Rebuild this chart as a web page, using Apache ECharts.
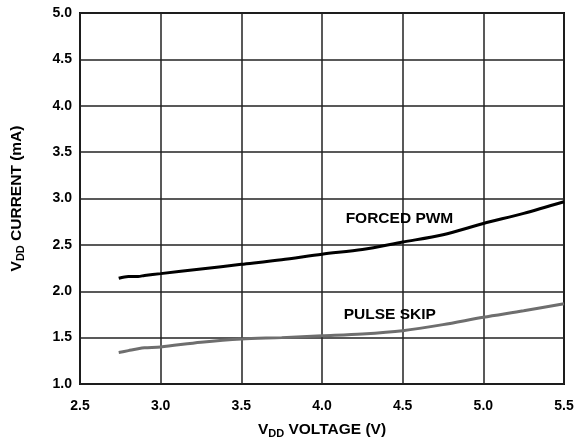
<!DOCTYPE html>
<html><head><meta charset="utf-8">
<script src="https://cdn.jsdelivr.net/npm/echarts@6/dist/echarts.min.js"></script>
<style>html,body{margin:0;padding:0;background:#fff}#c{width:579px;height:444px}</style>
</head><body><div id="c"></div>
<script>
const voltage = [2.74, 2.80, 2.86, 2.9, 3.0, 3.25, 3.5, 3.75, 4.0, 4.25, 4.5, 4.75, 5.0, 5.25, 5.5];
const forcedPwm = [2.14, 2.16, 2.16, 2.17, 2.19, 2.24, 2.29, 2.34, 2.40, 2.45, 2.53, 2.61, 2.73, 2.84, 2.965];
const pulseSkip = [1.34, 1.36, 1.38, 1.39, 1.40, 1.45, 1.485, 1.50, 1.52, 1.54, 1.575, 1.64, 1.72, 1.79, 1.866];
const xTicks = [2.5, 3.0, 3.5, 4.0, 4.5, 5.0, 5.5];
const yTicks = [1.0, 1.5, 2.0, 2.5, 3.0, 3.5, 4.0, 4.5, 5.0];
const labels = [{name:'FORCED PWM', x:4.48, y:2.78}, {name:'PULSE SKIP', x:4.42, y:1.75}];

const FONT = '"Liberation Sans", Arial, sans-serif';
const chart = echarts.init(document.getElementById('c'));
const pair = (xs, ys) => xs.map((x,i)=>[x, ys[i]]);
const titleRich = {
  a:{fontFamily:FONT, fontWeight:'bold', fontSize:15.5, color:'#000', lineHeight:18},
  b:{fontFamily:FONT, fontWeight:'bold', fontSize:11, color:'#000', verticalAlign:'bottom', lineHeight:12, padding:[7,0,0,0]}
};
chart.setOption({
  animation:false,
  grid:{left:80, right:15, top:13, bottom:57, show:true, borderColor:'#111', borderWidth:2},
  xAxis:{type:'value', min:xTicks[0], max:xTicks[xTicks.length-1], interval:0.5,
    axisLine:{show:false}, axisTick:{show:false},
    splitLine:{show:true, lineStyle:{color:'#222', width:1.5}},
    axisLabel:{color:'#000', fontFamily:FONT, fontWeight:'bold', fontSize:14, margin:15, formatter:v=>v.toFixed(1)},
    name:'{a|V}{b|DD}{a| VOLTAGE (V)}', nameLocation:'middle', nameGap:37,
    nameTextStyle:{rich:titleRich}
  },
  yAxis:{type:'value', min:yTicks[0], max:yTicks[yTicks.length-1], interval:0.5,
    axisLine:{show:false}, axisTick:{show:false},
    splitLine:{show:true, lineStyle:{color:'#222', width:1.5}},
    axisLabel:{color:'#000', fontFamily:FONT, fontWeight:'bold', fontSize:14, margin:8, formatter:v=>v.toFixed(1)},
    name:'{a|V}{b|DD}{a| CURRENT (mA)}', nameLocation:'middle', nameGap:54, nameRotate:90,
    nameTextStyle:{rich:titleRich}
  },
  series:[
    {type:'line', data:pair(voltage, forcedPwm), smooth:0.3, symbol:'none', lineStyle:{color:'#000', width:3},
      markPoint:{symbol:'circle', symbolSize:0, silent:true,
        label:{show:true, formatter:labels[0].name, color:'#000', fontFamily:FONT, fontWeight:'bold', fontSize:15.5},
        data:[{coord:[labels[0].x, labels[0].y]}]}},
    {type:'line', data:pair(voltage, pulseSkip), smooth:0.3, symbol:'none', lineStyle:{color:'#6e6e6e', width:3},
      markPoint:{symbol:'circle', symbolSize:0, silent:true,
        label:{show:true, formatter:labels[1].name, color:'#000', fontFamily:FONT, fontWeight:'bold', fontSize:15.5},
        data:[{coord:[labels[1].x, labels[1].y]}]}}
  ]
});
</script></body></html>
